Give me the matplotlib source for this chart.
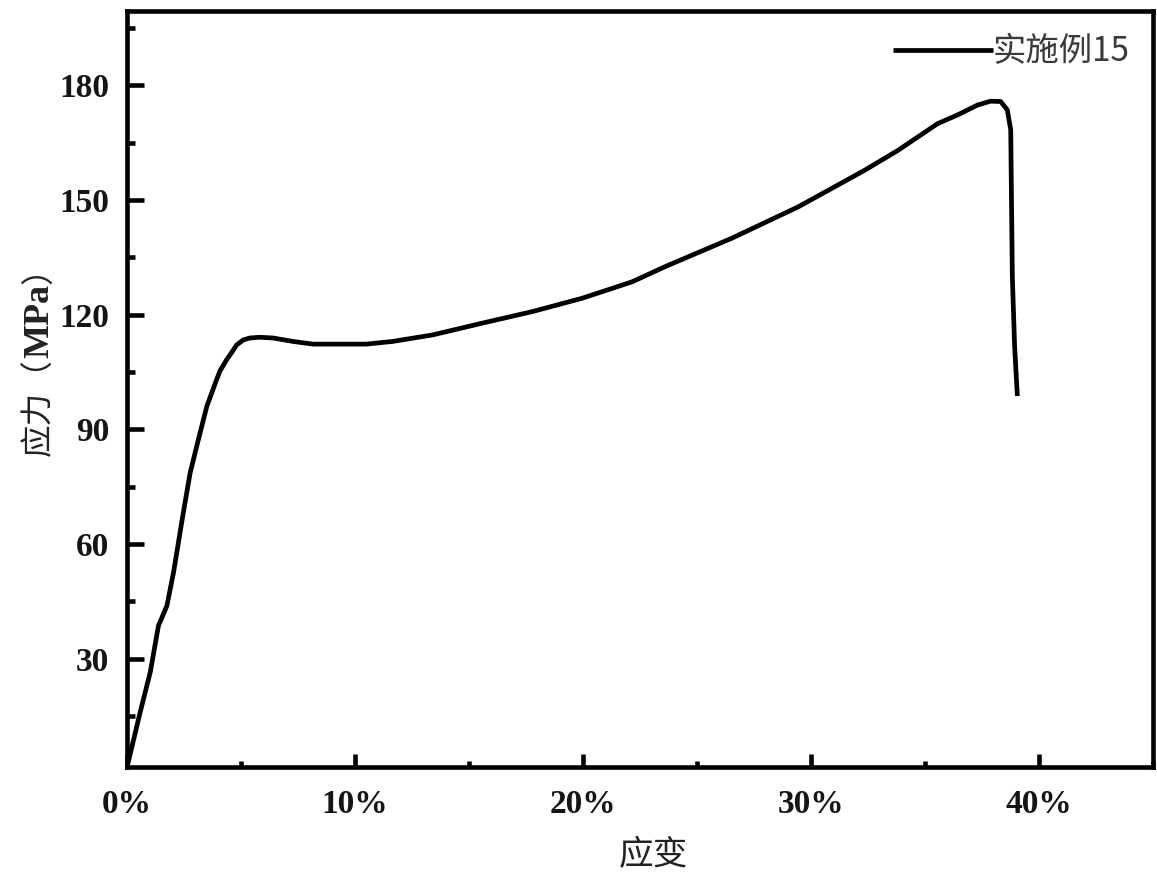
import matplotlib
matplotlib.use("Agg")
import matplotlib.pyplot as plt
from matplotlib.ticker import MultipleLocator, FuncFormatter

# Data (strain in %, stress in MPa)
strain = [0.0, 0.58, 1.02, 1.38, 1.75, 2.04, 2.47, 2.77, 3.13, 3.50, 3.93, 4.08,
          4.37, 4.59, 4.81, 5.10, 5.39, 5.80, 6.41, 7.28, 8.16, 10.49, 11.65,
          13.40, 15.59, 17.77, 19.96, 22.15, 23.61, 26.52, 29.43, 32.35, 33.81,
          35.55, 36.43, 37.31, 37.88, 38.32, 38.61, 38.76, 38.83, 38.93, 39.05]
stress = [1.5, 16.0, 26.4, 38.6, 43.8, 52.5, 68.2, 78.6, 87.3, 96.0, 103.0, 105.3,
          108.2, 110.1, 112.1, 113.4, 113.9, 114.1, 113.9, 113.0, 112.3, 112.3, 113.0,
          114.7, 117.8, 120.8, 124.3, 128.6, 132.6, 140.0, 148.2, 157.8, 163.0,
          170.0, 172.3, 174.9, 175.9, 175.8, 173.6, 168.4, 130.1, 111.8, 98.7]
series_label = "实施例15"
x_label = "应变"
y_label_parts = ["应力（", "MPa", "）"]
y_ticks = [30, 60, 90, 120, 150, 180]
x_ticks = [0, 10, 20, 30, 40]

W, H = 1157, 883
fig = plt.figure(figsize=(W / 100, H / 100), dpi=100)
ax = fig.add_axes([127 / W, 1 - 767 / H, (1153 - 127) / W, (767 - 11) / H])

ax.plot(strain, stress, color="black", lw=3.4, solid_capstyle="butt",
        solid_joinstyle="round", label=series_label)

ax.set_xlim(0, 45)
ax.set_ylim(1.6, 199.5)
ax.set_yticks(y_ticks)
ax.set_xticks(x_ticks)
ax.yaxis.set_minor_locator(MultipleLocator(15))
ax.xaxis.set_minor_locator(MultipleLocator(5))
ax.xaxis.set_major_formatter(FuncFormatter(lambda v, p: f"{int(round(v))}%"))

for s in ax.spines.values():
    s.set_linewidth(3.3)
    s.set_color("black")

ax.tick_params(axis="y", which="major", direction="in", length=12, width=3.3,
               pad=13, right=False, labelsize=24, labelcolor="#151515")
ax.tick_params(axis="y", which="minor", direction="in", length=6, width=3.3, right=False)
ax.tick_params(axis="x", which="major", direction="in", length=9.5, width=3.3,
               pad=16, top=False, labelsize=24, labelcolor="#151515")
ax.tick_params(axis="x", which="minor", direction="in", length=4, width=3.3, top=False)
for lab in ax.get_xticklabels() + ax.get_yticklabels():
    lab.set_fontfamily("Liberation Serif")
    lab.set_fontweight("bold")

fig.text(653 / W, 1 - 856 / H, x_label, ha="center", va="center",
         fontsize=25, color="#222222",
         family=["Noto Sans CJK SC", "DejaVu Sans"])

# y label built from pieces: CJK regular, "MPa" bold serif
renderer = fig.canvas.get_renderer()
y_cur = 1 - 456 / H
styles = [
    dict(family=["Noto Sans CJK SC", "DejaVu Sans"], weight="normal", size=23.5),
    dict(family=["Liberation Serif"], weight="bold", size=26),
    dict(family=["Noto Sans CJK SC", "DejaVu Sans"], weight="normal", size=23.5),
]
for part, st in zip(y_label_parts, styles):
    t = fig.text(40 / W, y_cur, part, ha="center", va="bottom", rotation=90,
                 color="#222222", fontfamily=st["family"],
                 fontweight=st["weight"], fontsize=st["size"])
    bb = t.get_window_extent(renderer)
    y_cur = bb.y1 / H

ax.legend(loc="upper right", frameon=False, handlelength=3.0,
          handletextpad=0.0, borderaxespad=0.3,
          prop={"family": ["Noto Sans CJK SC", "DejaVu Sans"], "size": 24},
          labelcolor="#3a3a3a")

fig.savefig("out.png", dpi=100)
